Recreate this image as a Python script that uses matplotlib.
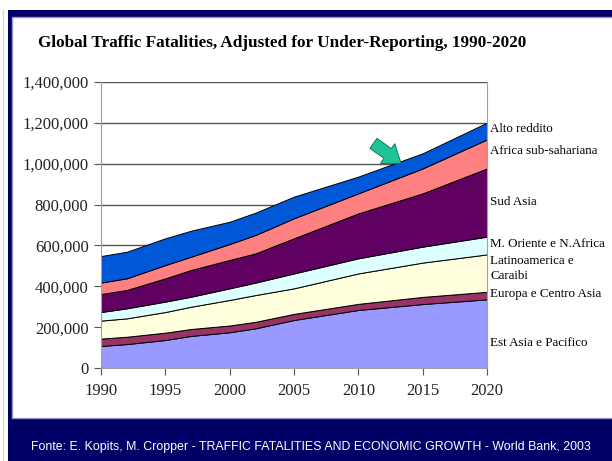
import numpy as np
import matplotlib
matplotlib.use('agg')
import matplotlib.pyplot as plt
from matplotlib.patches import Rectangle, FancyArrowPatch
from matplotlib.ticker import FuncFormatter

years = [1990, 1992, 1995, 1997, 2000, 2002, 2005, 2010, 2015, 2020]

# thousands of fatalities per region (stack order bottom -> top)
est_asia = [108, 117, 137, 157, 175, 194, 235, 284, 313, 336]
europa = [36, 36, 36, 34, 33, 32, 30, 30, 35, 37]
latino = [88, 90, 101, 109, 125, 131, 125, 149, 168, 183]
m_oriente = [42, 49, 51, 49, 57, 61, 73, 74, 78, 87]
sud_asia = [88, 90, 114, 131, 139, 143, 172, 220, 261, 334]
africa = [56, 57, 65, 65, 78, 90, 98, 98, 122, 142]
alto_reddito = [130, 130, 131, 127, 109, 109, 106, 82, 74, 82]

labels = ['Est Asia e Pacifico', 'Europa e Centro Asia', 'Latinoamerica e\nCaraibi',
          'M. Oriente e N.Africa', 'Sud Asia', 'Africa sub-sahariana', 'Alto reddito']
colors = ['#9999ff', '#993366', '#ffffdd', '#ddffff', '#600060', '#ff8080', '#0058d8']
series = [est_asia, europa, latino, m_oriente, sud_asia, africa, alto_reddito]
series = [np.array(s) * 1000 for s in series]

serif = 'Liberation Serif'
navy = '#000066'

fig = plt.figure(figsize=(6.12, 4.61), dpi=100)
W, H = 612, 461
# frame: navy band with white panel
fig.patches.append(Rectangle((8 / W, 0), 1, 1 - 10 / H, transform=fig.transFigure,
                             facecolor=navy, edgecolor='none', zorder=-3))
fig.patches.append(Rectangle((12 / W, 1 - 418 / H), 1, (418 - 17) / H, transform=fig.transFigure,
                             facecolor='white', edgecolor='#9999cc', linewidth=1, zorder=-2))
fig.lines.append(plt.Line2D([3 / W, 3 / W], [0, 1 - 10 / H], transform=fig.transFigure,
                            color='#d8d8d8', linewidth=1, zorder=-2))

ax = fig.add_axes([101 / W, 1 - 368 / H, (487 - 101) / W, (368 - 82) / H])
ax.set_facecolor('none')
ax.stackplot(years, *series, colors=colors, edgecolor='black', linewidth=0.7, zorder=2)

ax.set_xlim(1990, 2020)
ax.set_ylim(0, 1400000)
ax.set_xticks(range(1990, 2021, 5))
ax.set_yticks(range(0, 1400001, 200000))
ax.yaxis.set_major_formatter(FuncFormatter(lambda v, p: f'{v:,.0f}'))
ax.grid(axis='y', color='#555555', linewidth=1, zorder=1)
ax.set_axisbelow(True)
ax.spines['top'].set_visible(False)
for s in ['left', 'bottom', 'right']:
    ax.spines[s].set_color('#a0a0a0')
ax.tick_params(axis='both', direction='out', length=5, color='#555555', labelsize=12,
               labelcolor='#222222')
for t in ax.get_xticklabels() + ax.get_yticklabels():
    t.set_fontfamily(serif)
ax.tick_params(axis='x', pad=6)
ax.tick_params(axis='y', pad=4)

# right-hand series labels
label_y = [122000, 362000, 487000, 607000, 812000, 1062000, 1170000]
for lab, y in zip(labels, label_y):
    ax.text(1.008, y, lab, transform=ax.get_yaxis_transform(), fontsize=9.4,
            fontfamily=serif, va='center', ha='left', linespacing=1.4)

# green arrow
arrow = FancyArrowPatch((2011.0, 1108000), (2013.5, 994000),
                        arrowstyle='simple,head_width=1.1,head_length=0.75,tail_width=0.55',
                        mutation_scale=16, facecolor='#1fc496', edgecolor='#0b6b50',
                        linewidth=0.6, zorder=5)
ax.add_patch(arrow)

fig.text(38 / W, 1 - 43 / H, 'Global Traffic Fatalities, Adjusted for Under-Reporting, 1990-2020',
         fontsize=12.3, fontweight='bold', fontfamily=serif, va='center', ha='left')
fig.text(311 / W, 1 - 447 / H,
         'Fonte: E. Kopits, M. Cropper - TRAFFIC FATALITIES AND ECONOMIC GROWTH - World Bank, 2003',
         fontsize=8.9, color='white', fontfamily='Liberation Sans', va='center', ha='center')

fig.savefig('out.png', dpi=100)
